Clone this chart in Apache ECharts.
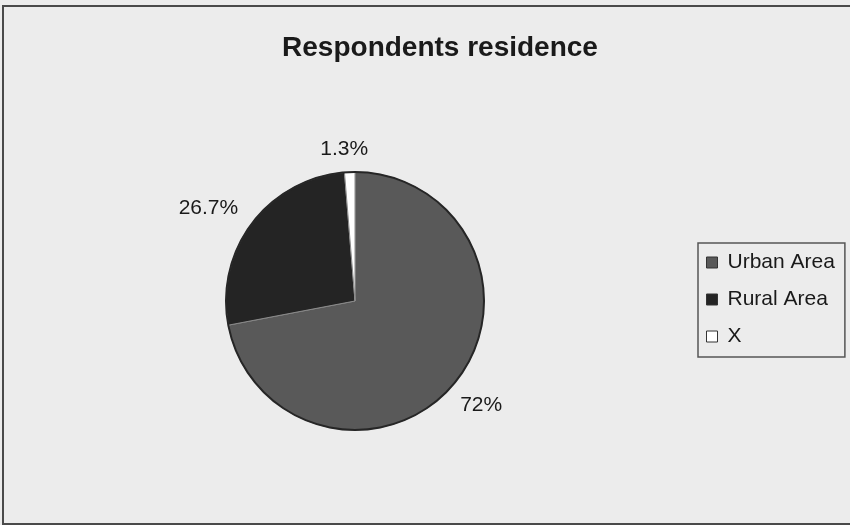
<!DOCTYPE html>
<html>
<head>
<meta charset="utf-8">
<script src="https://cdn.jsdelivr.net/npm/echarts@6/dist/echarts.min.js"></script>
<style>
    html, body { margin: 0; padding: 0; background: #f2f2f2; }
    #chart { width: 850px; height: 525px; }
</style>
</head>
<body>
<div id="chart"></div>
<script>
// Respondents residence pie
const categories = ['Urban Area', 'Rural Area', 'X'];
const values = [72, 26.7, 1.3];
const labels = ['72%', '26.7%', '1.3%'];
const colors = ['#595959', '#242424', '#ffffff'];
// small nudges so labels sit where the original put them
const labelNudge = [[-10, 13], [2, -6], [24, -9]];

const echart = echarts.init(document.getElementById('chart'));

const pieData = categories.map((name, i) => ({
    name: name,
    value: values[i],
    itemStyle: { color: colors[i] },
    label: { formatter: labels[i] }
}));

const option = {
    backgroundColor: '#ececec',
    animation: false,
    textStyle: { fontFamily: 'Liberation Sans, Arial, sans-serif' },
    title: {
        text: 'Respondents residence',
        left: 435,
        top: 29,
        textAlign: 'center',
        textStyle: {
            fontSize: 28,
            fontWeight: 'bold',
            color: '#1a1a1a',
            fontFamily: 'Liberation Sans, Arial, sans-serif'
        }
    },
    legend: {
        orient: 'vertical',
        left: 698,
        top: 243,
        padding: [9, 10, 10, 8],
        itemGap: 16,
        itemWidth: 11,
        itemHeight: 11,
        icon: 'rect',
        borderColor: '#555',
        borderWidth: 1.5,
        itemStyle: { borderColor: '#333', borderWidth: 1 },
        textStyle: { fontSize: 21, color: '#1a1a1a', padding: [0, 0, 0, 5] },
        data: categories
    },
    graphic: [{
        type: 'rect',
        shape: { x: 3, y: 6, width: 860, height: 518 },
        style: { fill: 'none', stroke: '#4a4a4a', lineWidth: 2 },
        silent: true
    }],
    series: [{
        type: 'pie',
        center: [355, 301],
        radius: 129,
        startAngle: 90,
        clockwise: true,
        label: {
            show: true,
            position: 'outside',
            fontSize: 21,
            color: '#1a1a1a'
        },
        labelLine: { show: false, length: 14, length2: 0 },
        labelLayout: params => ({ dx: labelNudge[params.dataIndex][0], dy: labelNudge[params.dataIndex][1] }),
        itemStyle: { borderColor: '#8a8a8a', borderWidth: 1 },
        emphasis: { disabled: true },
        data: pieData
    }, {
        // dark rim around the pie
        type: 'pie',
        center: [355, 301],
        radius: [128, 130],
        silent: true,
        label: { show: false },
        labelLine: { show: false },
        itemStyle: { color: '#262626' },
        data: [{ name: 'rim', value: 100 }]
    }]
};
echart.setOption(option);
</script>
</body>
</html>
